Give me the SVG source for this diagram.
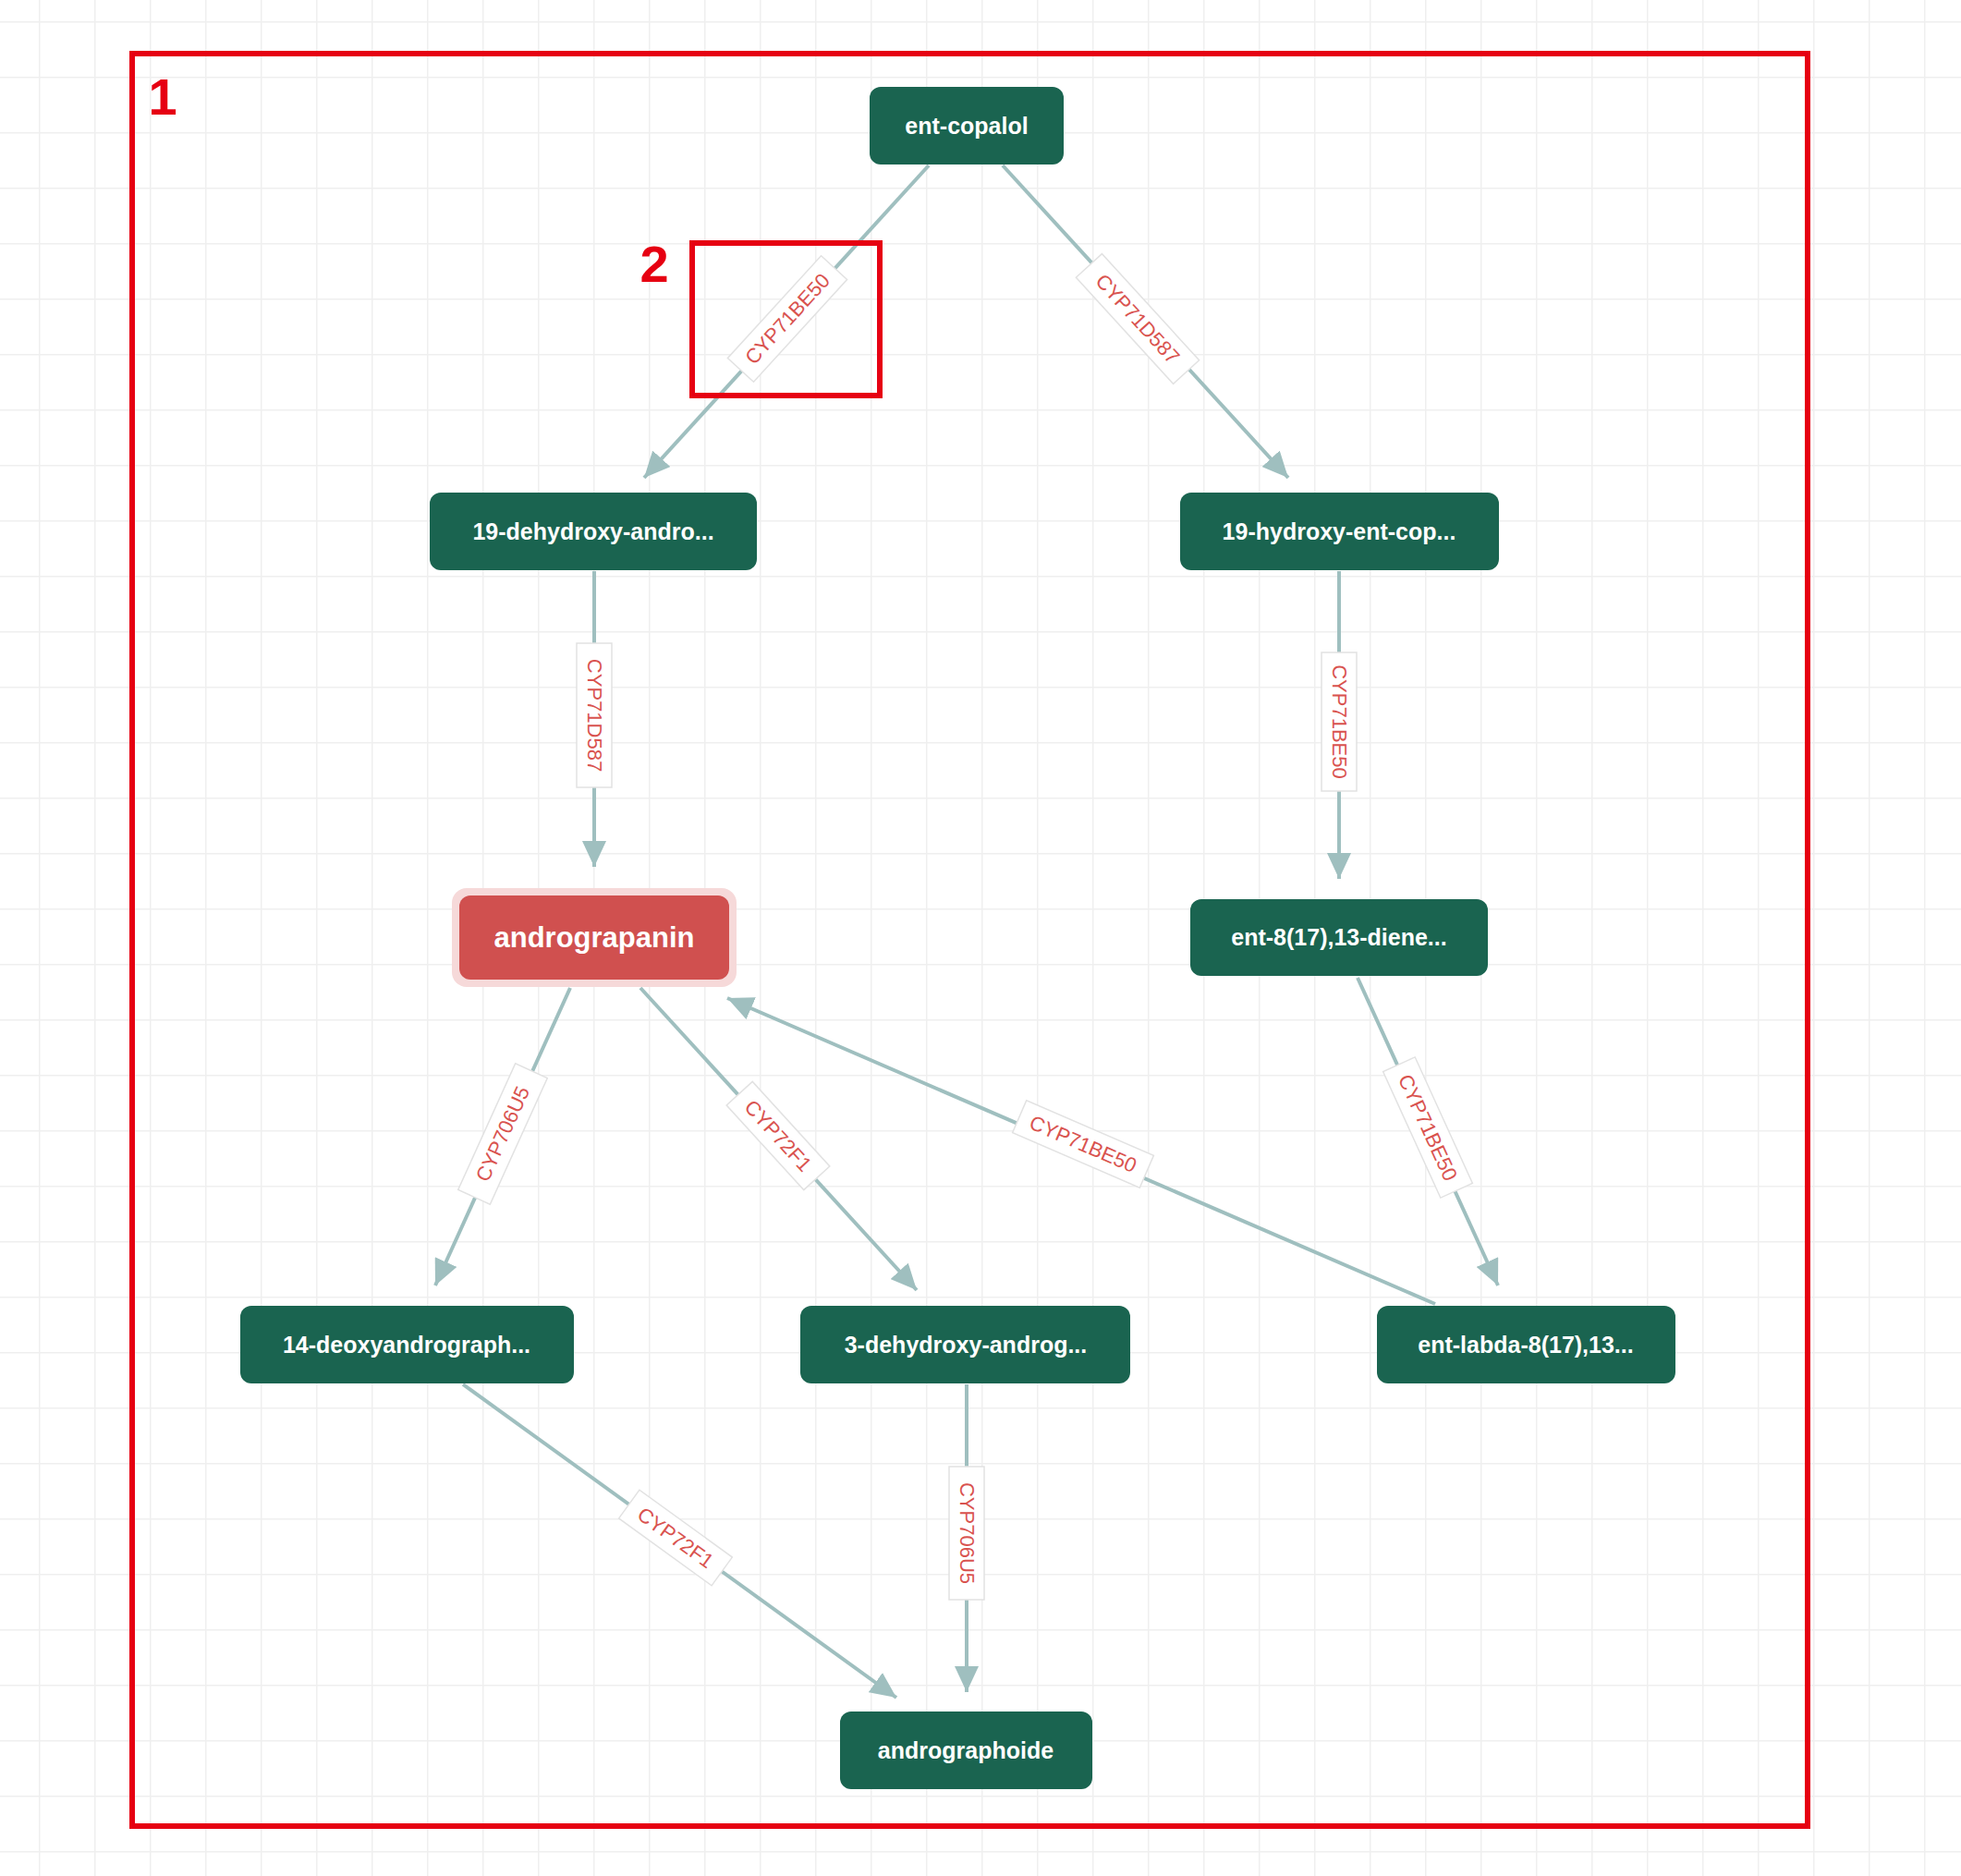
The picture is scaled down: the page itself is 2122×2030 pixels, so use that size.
<svg xmlns="http://www.w3.org/2000/svg" width="2122" height="2030" viewBox="0 0 2122 2030">
<defs>
<pattern id="grid" width="60" height="60" patternUnits="userSpaceOnUse" x="42" y="23">
<path d="M0 0H60M0 0V60" fill="none" stroke="#efefef" stroke-width="3"/>
</pattern>
<marker id="arr" markerUnits="userSpaceOnUse" markerWidth="30" markerHeight="26" refX="28" refY="13" orient="auto">
<path d="M0 0L28 13L0 26z" fill="#9fbfbf"/>
</marker>
<style>
.n rect{fill:#1a6450}
.n text{fill:#fff;font-family:"Liberation Sans",Arial,sans-serif;font-weight:bold;font-size:25px;text-anchor:middle;dominant-baseline:central}
.e line{stroke:#9fbfbf;stroke-width:4;marker-end:url(#arr)}
.l rect{fill:#fff;stroke:#e2e2e2;stroke-width:1.5}
.l text{fill:#d9534f;font-family:"Liberation Sans",Arial,sans-serif;font-size:22px;text-anchor:middle;dominant-baseline:central}
</style>
</defs>
<rect width="2122" height="2030" fill="#fff"/>
<rect width="2122" height="2030" fill="url(#grid)"/>
<g id="connectors">
<g class="e">
<line x1="1005" y1="179" x2="697" y2="517"/>
<line x1="1085" y1="179" x2="1394" y2="517"/>
<line x1="643" y1="618" x2="643" y2="938"/>
<line x1="1449" y1="618" x2="1449" y2="951"/>
<line x1="617" y1="1069" x2="471" y2="1391"/>
<line x1="693" y1="1069" x2="992" y2="1396"/>
<line x1="1553" y1="1411" x2="787" y2="1080"/>
<line x1="1469" y1="1058" x2="1621" y2="1391"/>
<line x1="501" y1="1498" x2="970" y2="1837"/>
<line x1="1046" y1="1498" x2="1046" y2="1831"/>
</g>
<g class="l">
<g transform="translate(852,345) rotate(-47.6)"><rect x="-75" y="-19" width="150" height="38"/><text>CYP71BE50</text></g>
<g transform="translate(1231,345) rotate(47.6)"><rect x="-78" y="-19" width="156" height="38"/><text>CYP71D587</text></g>
<g transform="translate(643,774) rotate(90)"><rect x="-78" y="-19" width="156" height="38"/><text>CYP71D587</text></g>
<g transform="translate(1449,781) rotate(90)"><rect x="-75" y="-19" width="150" height="38"/><text>CYP71BE50</text></g>
<g transform="translate(544,1227) rotate(-65.6)"><rect x="-75" y="-19" width="150" height="38"/><text>CYP706U5</text></g>
<g transform="translate(842,1229) rotate(47.6)"><rect x="-62" y="-19" width="124" height="38"/><text>CYP72F1</text></g>
<g transform="translate(1172,1238) rotate(23.4)"><rect x="-75" y="-19" width="150" height="38"/><text>CYP71BE50</text></g>
<g transform="translate(1545,1220) rotate(65.5)"><rect x="-75" y="-19" width="150" height="38"/><text>CYP71BE50</text></g>
<g transform="translate(731,1664) rotate(35.9)"><rect x="-62" y="-19" width="124" height="38"/><text>CYP72F1</text></g>
<g transform="translate(1046,1659) rotate(90)"><rect x="-72" y="-19" width="144" height="38"/><text>CYP706U5</text></g>
</g>
</g>
<g id="ent-copalol" class="n"><rect x="941" y="94" width="210" height="84" rx="12"/><text x="1046" y="136">ent-copalol</text></g>
<g id="n19-dehydroxy" class="n"><rect x="465" y="533" width="354" height="84" rx="12"/><text x="642" y="575">19-dehydroxy-andro...</text></g>
<g id="n19-hydroxy" class="n"><rect x="1277" y="533" width="345" height="84" rx="12"/><text x="1449" y="575">19-hydroxy-ent-cop...</text></g>
<g id="andrograpanin"><rect x="489" y="961" width="308" height="107" rx="16" fill="#f6d9d9"/><rect x="497" y="969" width="292" height="91" rx="12" fill="#d0504f"/><text x="643" y="1014" fill="#fff" font-family="Liberation Sans,Arial,sans-serif" font-weight="bold" font-size="31" text-anchor="middle" dominant-baseline="central">andrograpanin</text></g>
<g id="ent-8" class="n"><rect x="1288" y="973" width="322" height="83" rx="12"/><text x="1449" y="1014">ent-8(17),13-diene...</text></g>
<g id="n14-deoxy" class="n"><rect x="260" y="1413" width="361" height="84" rx="12"/><text x="440" y="1455">14-deoxyandrograph...</text></g>
<g id="n3-dehydroxy" class="n"><rect x="866" y="1413" width="357" height="84" rx="12"/><text x="1045" y="1455">3-dehydroxy-androg...</text></g>
<g id="ent-labda" class="n"><rect x="1490" y="1413" width="323" height="84" rx="12"/><text x="1651" y="1455">ent-labda-8(17),13...</text></g>
<g id="andrographoide" class="n"><rect x="909" y="1852" width="273" height="84" rx="12"/><text x="1045" y="1894">andrographoide</text></g>
<rect x="143" y="58" width="1813" height="1918" fill="none" stroke="#e60012" stroke-width="6"/>
<text x="176" y="124" fill="#e60012" font-family="Liberation Sans,Arial,sans-serif" font-weight="bold" font-size="56" text-anchor="middle">1</text>
<rect x="749" y="263" width="203" height="165" fill="none" stroke="#e60012" stroke-width="6"/>
<text x="708" y="305" fill="#e60012" font-family="Liberation Sans,Arial,sans-serif" font-weight="bold" font-size="56" text-anchor="middle">2</text>
</svg>
